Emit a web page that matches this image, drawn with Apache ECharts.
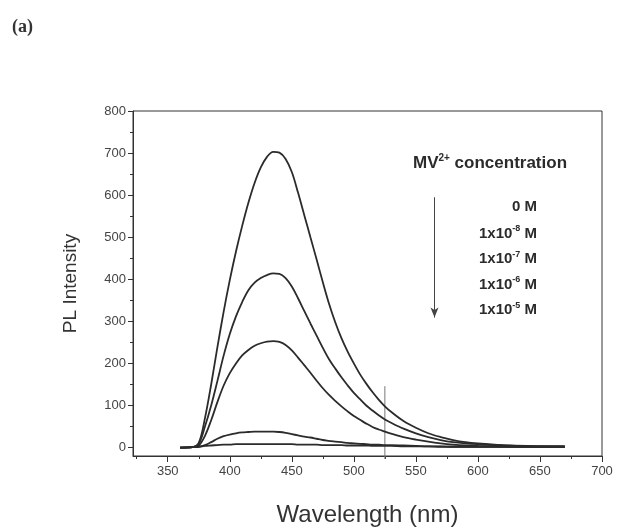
<!DOCTYPE html>
<html>
<head>
<meta charset="utf-8">
<script src="https://cdn.jsdelivr.net/npm/echarts@6/dist/echarts.min.js"></script>
<style>
  html, body { margin: 0; padding: 0; background: #ffffff; }
  #main { width: 620px; height: 528px; }
</style>
</head>
<body>
<div id="main"></div>
<script>
// wavelength samples (nm), shared by every spectrum
var wavelengths = [360, 370, 375, 380, 385, 390, 395, 400, 405, 410, 415, 420, 425, 430, 435, 440, 445, 450, 455, 460,
    465, 470, 475, 480, 485, 490, 495, 500, 505, 510, 515, 520, 525, 530, 540, 550, 560, 570, 580, 590, 600, 620, 640, 670];

// PL intensity for each MV2+ concentration
var pl0M = [0, 1, 11, 70, 150, 238, 322, 398, 466, 527, 582, 629, 666, 691, 703, 701, 686, 655, 606, 553,
    500, 447, 393, 342, 298, 260, 228, 200, 174, 152, 132, 114, 98, 85, 63, 47, 34, 25, 18, 13, 10, 6, 4, 3];
var pl1e8 = [0, 1, 9, 50, 100, 158, 218, 270, 312, 346, 374, 392, 403, 410, 414, 413, 403, 383, 355, 325,
    295, 266, 237, 210, 188, 167, 148, 130, 115, 100, 88, 77, 67, 59, 45, 34, 25, 18, 13, 10, 8, 5, 3, 2];
var pl1e7 = [0, 1, 5, 28, 65, 108, 147, 177, 200, 219, 232, 242, 248, 252, 253, 251, 244, 231, 214, 196,
    178, 159, 141, 125, 111, 98, 86, 75, 66, 57, 49, 43, 38, 33, 25, 19, 14, 10, 7, 5, 4, 3, 2, 2];
var pl1e6 = [0, 1, 2, 6, 13, 21, 27, 31, 34, 36, 37, 38, 38, 38, 38, 37, 35, 32, 29, 26,
    24, 21, 18, 16, 14, 13, 11, 10, 9, 8, 7, 7, 6, 6, 5, 4, 3, 3, 2, 2, 2, 2, 2, 2];
var pl1e5 = [0, 1, 2, 4, 5, 6, 7, 7, 8, 8, 8, 8, 8, 8, 8, 8, 8, 8, 7, 7,
    7, 7, 6, 6, 6, 6, 5, 5, 5, 5, 4, 4, 4, 4, 3, 3, 3, 2, 2, 2, 2, 2, 2, 2];

var seriesNames = ['0 M', '1x10-8 M', '1x10-7 M', '1x10-6 M', '1x10-5 M'];
var seriesValues = [pl0M, pl1e8, pl1e7, pl1e6, pl1e5];

// legend text: base and exponent
var concBase = ['0', '1x10', '1x10', '1x10', '1x10'];
var concExp = ['', '-8', '-7', '-6', '-5'];

// axis ticks
var xMajor = [350, 400, 450, 500, 550, 600, 650, 700];
var xMinor = [325, 375, 425, 475, 525, 575, 625, 675];
var yMajor = [0, 100, 200, 300, 400, 500, 600, 700, 800];
var yMinor = [50, 150, 250, 350, 450, 550, 650, 750];

// arrow (x, from, to) and the thin vertical marker line
var arrowX = 565, arrowFrom = 595, arrowTo = 309;
var markerX = 525, markerTop = 146, markerBottom = -27;

var myChart = echarts.init(document.getElementById('main'));

var ink = '#2b2b2b';
var font = 'Liberation Sans';

function pairs(vals) {
    return wavelengths.map(function (w, i) { return [w, vals[i]]; });
}

var series = seriesValues.map(function (vals, i) {
    var s = {
        name: seriesNames[i],
        type: 'line',
        data: pairs(vals),
        smooth: 0.35,
        symbol: 'none',
        lineStyle: { color: ink, width: 1.8 },
        z: 3
    };
    if (i === 0) {
        s.markLine = {
            silent: true,
            symbol: ['none', 'arrow'],
            symbolSize: [6, 10],
            label: { show: false },
            lineStyle: { color: '#444', width: 1, type: 'solid' },
            data: [[{ coord: [arrowX, arrowFrom] }, { coord: [arrowX, arrowTo] }]]
        };
    }
    return s;
});

series.push({
    name: 'marker',
    type: 'line',
    data: [[markerX, markerTop], [markerX, markerBottom]],
    symbol: 'none',
    clip: false,
    lineStyle: { color: '#777', width: 1 },
    z: 2
});

// legend-like annotation
var graphics = [{
    type: 'text',
    left: 413,
    top: 153,
    style: {
        text: '{m|MV}{s|2+}{m| concentration}',
        fill: ink,
        rich: {
            m: { fontSize: 17, fontWeight: 'bold', fontFamily: font, color: ink, lineHeight: 20 },
            s: { fontSize: 10, fontWeight: 'bold', fontFamily: font, color: ink, verticalAlign: 'top', lineHeight: 20 }
        }
    }
}];
concBase.forEach(function (b, i) {
    var txt = concExp[i] ? '{m|' + b + '}{s|' + concExp[i] + '}{m| M}' : '{m|' + b + ' M}';
    graphics.push({
        type: 'text',
        right: 620 - 537,
        top: 199 + i * 25.5,
        style: {
            text: txt,
            fill: ink,
            align: 'right',
            rich: {
                m: { fontSize: 15, fontWeight: 'bold', fontFamily: font, color: ink, lineHeight: 18 },
                s: { fontSize: 9, fontWeight: 'bold', fontFamily: font, color: ink, verticalAlign: 'top', lineHeight: 18 }
            }
        }
    });
});

var option = {
    animation: false,
    backgroundColor: '#ffffff',
    title: {
        text: '(a)',
        left: 7,
        top: 13,
        textStyle: { fontFamily: 'Liberation Serif', fontSize: 18, fontWeight: 'bold', color: '#333' }
    },
    grid: {
        left: 133, right: 18, top: 111, bottom: 72,
        outerBoundsMode: 'none',
        containLabel: false,
        show: true, borderColor: '#333', borderWidth: 1
    },
    xAxis: [{
        type: 'value',
        min: 322, max: 700,
        name: 'Wavelength (nm)',
        nameLocation: 'middle',
        nameGap: 47,
        nameTextStyle: { fontSize: 24, fontFamily: font, color: '#333' },
        axisLine: { show: true, onZero: false, lineStyle: { color: '#333' } },
        axisTick: { show: true, customValues: xMajor, length: 6, lineStyle: { color: '#333' } },
        axisLabel: { customValues: xMajor, fontSize: 13, fontFamily: font, color: '#444', margin: 9 },
        splitLine: { show: false }
    }, {
        type: 'value',
        min: 322, max: 700,
        position: 'bottom',
        axisLine: { show: false, onZero: false },
        axisTick: { show: true, customValues: xMinor, length: 3, lineStyle: { color: '#333' } },
        axisLabel: { show: false },
        splitLine: { show: false }
    }],
    yAxis: [{
        type: 'value',
        min: -20, max: 800,
        name: 'PL Intensity',
        nameLocation: 'middle',
        nameGap: 53,
        nameTextStyle: { fontSize: 19, fontFamily: font, color: '#333' },
        axisLine: { show: true, onZero: false, lineStyle: { color: '#333' } },
        axisTick: { show: true, customValues: yMajor, length: 5, lineStyle: { color: '#333' } },
        axisLabel: { customValues: yMajor, fontSize: 13, fontFamily: font, color: '#444', margin: 7 },
        splitLine: { show: false }
    }, {
        type: 'value',
        min: -20, max: 800,
        position: 'left',
        axisLine: { show: false, onZero: false },
        axisTick: { show: true, customValues: yMinor, length: 3, lineStyle: { color: '#333' } },
        axisLabel: { show: false },
        splitLine: { show: false }
    }],
    graphic: graphics,
    series: series
};

myChart.setOption(option);
</script>
</body>
</html>
